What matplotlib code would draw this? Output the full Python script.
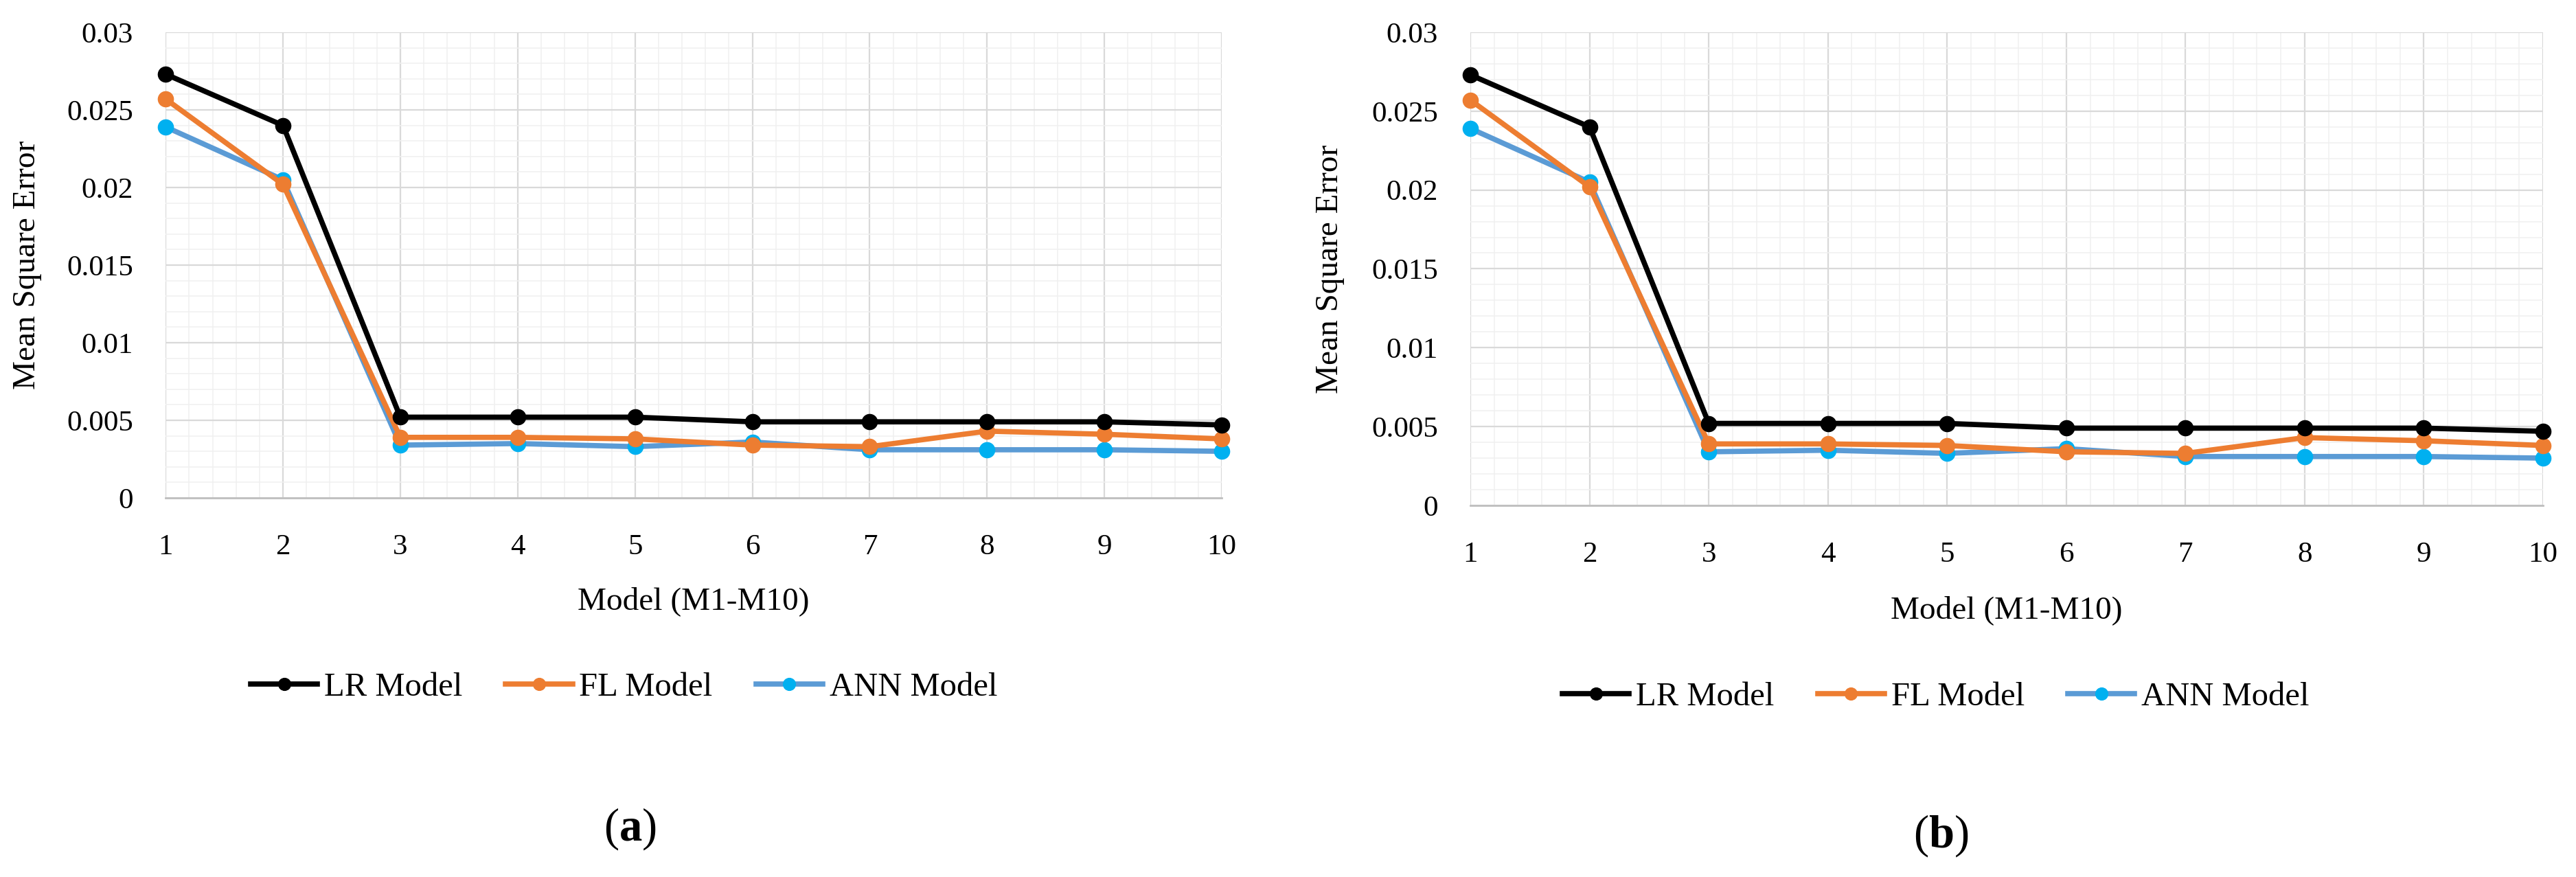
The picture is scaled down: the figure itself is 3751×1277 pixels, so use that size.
import matplotlib
matplotlib.use("Agg")
import matplotlib.pyplot as plt
from matplotlib.ticker import MultipleLocator, FuncFormatter

plt.rcParams['font.family'] = ['Liberation Serif', 'DejaVu Serif']
plt.rcParams['mathtext.fontset'] = 'custom'
plt.rcParams['mathtext.rm'] = 'Liberation Serif'
plt.rcParams['mathtext.bf'] = 'Liberation Serif:bold'

models = [1, 2, 3, 4, 5, 6, 7, 8, 9, 10]
lr_mse = [0.0273, 0.0240, 0.0052, 0.0052, 0.0052, 0.0049, 0.0049, 0.0049, 0.0049, 0.0047]
fl_mse = [0.0257, 0.0202, 0.0039, 0.0039, 0.0038, 0.0034, 0.0033, 0.0043, 0.0041, 0.0038]
ann_mse = [0.0239, 0.0205, 0.0034, 0.0035, 0.0033, 0.0036, 0.0031, 0.0031, 0.0031, 0.0030]
panel_labels = ['a', 'b']

fig = plt.figure(figsize=(37.51, 12.77), dpi=100)

# axes rectangles and label positions
rects = [[0.0643, 0.4323, 0.4100, 0.5309],
         [0.5708, 0.4237, 0.4164, 0.5395]]
legend_y = [-0.407, -0.405]
panel_pos = [(0.2447, 0.0548), (0.7534, 0.047)]

for i, rect in enumerate(rects):
    ax = fig.add_axes(rect)
    ax.plot(models, lr_mse, color='black', lw=5.5, marker='o', ms=16,
            mfc='black', mec='black', label='LR Model', clip_on=False, zorder=5)
    ax.plot(models, fl_mse, color='#ED7D31', lw=5.5, marker='o', ms=16,
            mfc='#ED7D31', mec='#ED7D31', label='FL Model', clip_on=False, zorder=4)
    ax.plot(models, ann_mse, color='#5B9BD5', lw=5.5, marker='o', ms=16,
            mfc='#00B0F0', mec='#00B0F0', label='ANN Model', clip_on=False, zorder=3)

    ax.set_xlim(1, 10)
    ax.set_ylim(0, 0.03)
    ax.xaxis.set_major_locator(MultipleLocator(1))
    ax.xaxis.set_minor_locator(MultipleLocator(0.2))
    ax.yaxis.set_major_locator(MultipleLocator(0.005))
    ax.yaxis.set_minor_locator(MultipleLocator(0.001))
    ax.yaxis.set_major_formatter(FuncFormatter(lambda v, p: '{:g}'.format(round(v, 4))))

    ax.grid(which='major', color='#d9d9d9', lw=1.6)
    ax.grid(which='minor', color='#f0f0f0', lw=1.1)
    ax.set_axisbelow(True)

    for s in ['top', 'right', 'left']:
        ax.spines[s].set_visible(False)
    ax.spines['bottom'].set_color('#bfbfbf')
    ax.spines['bottom'].set_linewidth(2)

    ax.tick_params(which='both', length=0)
    ax.tick_params(axis='y', labelsize=31, pad=34)
    ax.tick_params(axis='x', labelsize=31, pad=38)

    ax.set_xlabel('Model (M1-M10)', fontsize=34)
    ax.xaxis.set_label_coords(0.5, -0.19)
    ax.set_ylabel('Mean Square Error', fontsize=34)
    ax.yaxis.set_label_coords(-0.117, 0.5)

    ax.legend(loc='center', bbox_to_anchor=(0.434, legend_y[i]), ncol=3,
              frameon=False, fontsize=35, handlelength=2.0, handletextpad=0.2,
              columnspacing=1.3, markerscale=0.8)

    fig.text(panel_pos[i][0], panel_pos[i][1],
             r'($\mathbf{' + panel_labels[i] + r'}$)',
             fontsize=48, ha='center', va='center')

fig.savefig('out.png', dpi=100)
